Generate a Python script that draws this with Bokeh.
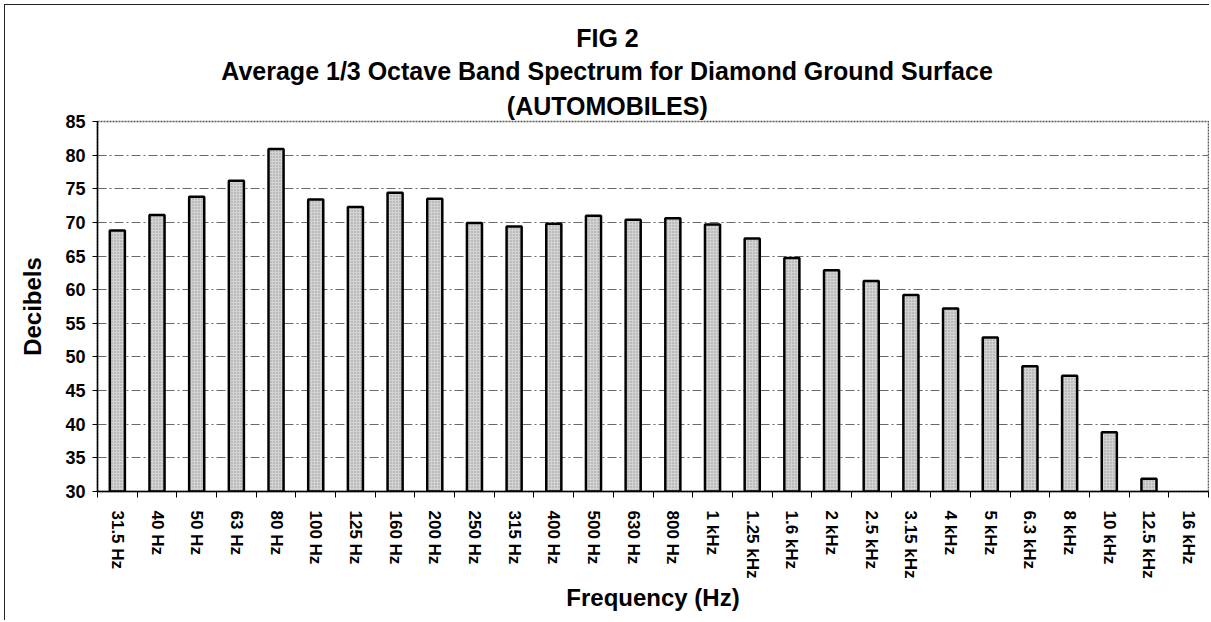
from bokeh.plotting import figure
from bokeh.models import Range1d, FixedTicker, Title
from bokeh.embed import file_html
from bokeh.resources import INLINE

bands = ["31.5 Hz", "40 Hz", "50 Hz", "63 Hz", "80 Hz", "100 Hz", "125 Hz", "160 Hz",
         "200 Hz", "250 Hz", "315 Hz", "400 Hz", "500 Hz", "630 Hz", "800 Hz", "1 kHz",
         "1.25 kHz", "1.6 kHz", "2 kHz", "2.5 kHz", "3.15 kHz", "4 kHz", "5 kHz",
         "6.3 kHz", "8 kHz", "10 kHz", "12.5 kHz", "16 kHz"]
decibels = [68.8, 71.1, 73.8, 76.2, 80.9, 73.4, 72.3, 74.4, 73.5, 69.9, 69.4, 69.8,
            71.0, 70.4, 70.6, 69.7, 67.6, 64.7, 62.9, 61.3, 59.2, 57.2, 52.9, 48.6,
            47.2, 38.8, 31.9, float("nan")]
y_ticks = [30, 35, 40, 45, 50, 55, 60, 65, 70, 75, 80, 85]

title_lines = ["FIG 2",
               "Average 1/3 Octave Band Spectrum for Diamond Ground Surface",
               "(AUTOMOBILES)"]
# approximate text widths in em (Arial/Liberation Sans Bold metrics) used to centre titles
title_em = [2.501, 30.897, 8.055]
title_standoff = [2, 5, 4]

FONT = "Liberation Sans"
n = len(bands)
xpos = [i + 0.5 for i in range(n)]

p = figure(width=1205, height=616, output_backend="svg", toolbar_location=None,
           title=None,
           x_range=Range1d(0, n), y_range=Range1d(y_ticks[0], y_ticks[-1]),
           min_border_left=92, min_border_right=2, min_border_top=116,
           min_border_bottom=130, tools="")
p.background_fill_color = "white"
p.border_fill_color = "white"
p.styles = {"border-left": "1px solid #222", "border-top": "1px solid #222",
            "margin": "4px 0 0 4px"}

p.vbar(x=xpos, top=decibels, bottom=y_ticks[0], width=0.38,
       fill_color="#d3d3d3", line_color="black", line_width=2.5,
       hatch_pattern="dot", hatch_color="#808080", hatch_scale=3, hatch_weight=1,
       hatch_alpha=0.7)

# grid
p.xgrid.visible = False
p.ygrid.grid_line_color = "#6a6a6a"
p.ygrid.grid_line_dash = "9 3 2 3"
p.ygrid.grid_line_width = 1
p.ygrid.ticker = FixedTicker(ticks=y_ticks)

p.outline_line_color = "#555555"
p.outline_line_dash = "2 1"
p.outline_line_width = 1.5

# y axis
ya = p.yaxis[0]
ya.ticker = FixedTicker(ticks=y_ticks)
ya.axis_label = "Decibels"
ya.axis_label_text_font = FONT
ya.axis_label_text_font_style = "bold"
ya.axis_label_text_font_size = "24px"
ya.axis_label_text_color = "black"
ya.axis_label_standoff = 16
ya.major_label_text_font = FONT
ya.major_label_text_font_style = "bold"
ya.major_label_text_font_size = "18px"
ya.major_label_text_color = "black"
ya.major_label_standoff = 7
ya.axis_line_color = "black"
ya.axis_line_width = 1.5
ya.major_tick_line_color = "black"
ya.major_tick_out = 5
ya.major_tick_in = 0
ya.minor_tick_line_color = None

# x axis
xa = p.xaxis[0]
xa.ticker = FixedTicker(ticks=xpos, minor_ticks=list(range(n + 1)))
xa.major_label_overrides = {x: b for x, b in zip(xpos, bands)}
xa.major_label_orientation = "vertical"
xa.major_label_text_font = FONT
xa.major_label_text_font_style = "bold"
xa.major_label_text_font_size = "17px"
xa.major_label_text_color = "black"
xa.major_label_standoff = 13
xa.major_tick_line_color = None
xa.major_tick_out = 0
xa.major_tick_in = 0
xa.minor_tick_line_color = "black"
xa.minor_tick_out = 6
xa.minor_tick_in = 0
xa.axis_line_color = "black"
xa.axis_line_width = 1.5
xa.axis_label = "Frequency (Hz)"
xa.axis_label_text_font = FONT
xa.axis_label_text_font_style = "bold"
xa.axis_label_text_font_size = "24px"
xa.axis_label_text_color = "black"
xa.axis_label_standoff = 2

# titles: first added sits closest to the plot frame
centre = 510
size = 25
for txt, em, so in reversed(list(zip(title_lines, title_em, title_standoff))):
    p.add_layout(Title(text=txt, align="left", offset=centre - em * size / 2,
                       text_font=FONT, text_font_style="bold",
                       text_font_size=f"{size}px", text_color="black",
                       standoff=so), "above")

open("out.html", "w").write(file_html(p, INLINE))
